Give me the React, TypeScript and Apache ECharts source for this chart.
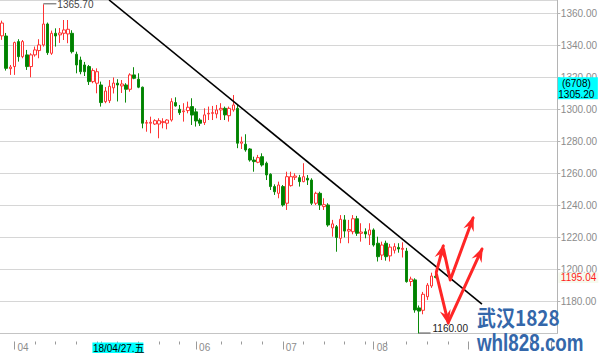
import React, { useEffect, useRef } from 'react';
import * as echarts from 'echarts';

// ---------- data ----------
const START_DATE = '2018-03-28';
const CATEGORY_COUNT = 135;

// [open, close, low, high]
const candles: number[][] = [
  [1346.0, 1354.0, 1343.5, 1355.5],
  [1345.9, 1325.7, 1324.3, 1347.8],
  [1325.5, 1326.5, 1321.6, 1327.8],
  [1326.8, 1341.8, 1321.6, 1342.4],
  [1342.4, 1333.0, 1329.9, 1343.9],
  [1333.0, 1342.4, 1332.0, 1343.4],
  [1334.1, 1326.8, 1324.7, 1337.2],
  [1326.8, 1334.1, 1320.1, 1335.1],
  [1334.1, 1337.2, 1333.0, 1339.3],
  [1336.8, 1340.3, 1332.0, 1343.9],
  [1340.3, 1353.4, 1339.3, 1365.7],
  [1353.4, 1335.5, 1334.1, 1354.3],
  [1335.1, 1347.6, 1334.1, 1349.3],
  [1347.6, 1345.9, 1339.3, 1350.7],
  [1346.6, 1347.8, 1341.6, 1350.9],
  [1347.6, 1349.7, 1343.4, 1355.9],
  [1347.2, 1350.1, 1341.4, 1355.9],
  [1347.6, 1336.1, 1335.0, 1349.5],
  [1334.5, 1327.8, 1322.6, 1336.1],
  [1330.9, 1323.6, 1322.0, 1333.0],
  [1327.8, 1323.6, 1320.9, 1329.7],
  [1326.8, 1317.4, 1315.3, 1327.8],
  [1317.4, 1324.3, 1316.4, 1325.7],
  [1316.4, 1323.6, 1310.1, 1325.7],
  [1315.3, 1304.3, 1301.8, 1317.4],
  [1304.9, 1311.5, 1303.9, 1314.0],
  [1305.5, 1314.5, 1304.0, 1318.4],
  [1313.5, 1316.5, 1310.0, 1320.0],
  [1316.4, 1315.3, 1305.0, 1318.9],
  [1314.7, 1315.9, 1310.3, 1318.4],
  [1315.3, 1312.6, 1304.3, 1316.4],
  [1312.6, 1321.6, 1311.1, 1322.6],
  [1321.6, 1319.5, 1318.9, 1326.4],
  [1318.9, 1313.9, 1313.3, 1322.6],
  [1313.9, 1291.4, 1288.2, 1314.3],
  [1291.4, 1291.8, 1286.1, 1293.4],
  [1291.4, 1292.0, 1285.1, 1295.5],
  [1290.9, 1293.0, 1290.3, 1293.9],
  [1290.9, 1293.0, 1282.0, 1294.5],
  [1291.8, 1292.4, 1288.2, 1294.5],
  [1291.4, 1293.4, 1287.6, 1293.9],
  [1293.4, 1304.9, 1292.4, 1307.0],
  [1304.3, 1302.2, 1301.8, 1307.6],
  [1300.1, 1298.0, 1296.6, 1302.8],
  [1298.6, 1299.1, 1292.4, 1303.9],
  [1299.3, 1301.4, 1297.6, 1304.9],
  [1301.8, 1296.5, 1290.3, 1307.0],
  [1298.5, 1292.8, 1289.3, 1300.7],
  [1293.4, 1291.4, 1289.7, 1294.5],
  [1291.8, 1296.6, 1290.3, 1300.7],
  [1297.2, 1297.6, 1293.4, 1301.8],
  [1297.6, 1298.0, 1293.4, 1302.2],
  [1297.2, 1299.7, 1294.5, 1302.8],
  [1299.7, 1300.7, 1293.4, 1303.9],
  [1300.7, 1296.6, 1293.4, 1301.8],
  [1296.1, 1300.7, 1292.4, 1301.8],
  [1299.7, 1302.8, 1298.6, 1309.0],
  [1300.7, 1278.9, 1275.8, 1302.8],
  [1278.9, 1279.7, 1275.3, 1283.0],
  [1278.3, 1274.7, 1273.6, 1284.5],
  [1275.3, 1268.4, 1267.4, 1275.8],
  [1268.4, 1267.4, 1261.1, 1270.5],
  [1267.0, 1269.9, 1266.4, 1271.6],
  [1270.5, 1265.3, 1264.3, 1272.6],
  [1266.4, 1259.1, 1255.9, 1267.4],
  [1259.5, 1251.8, 1249.7, 1260.1],
  [1251.8, 1248.6, 1246.6, 1253.2],
  [1247.6, 1252.8, 1244.5, 1254.9],
  [1251.8, 1240.3, 1239.3, 1252.8],
  [1241.4, 1258.0, 1237.2, 1261.1],
  [1252.4, 1258.0, 1251.8, 1261.1],
  [1257.6, 1258.4, 1255.9, 1260.1],
  [1257.4, 1254.9, 1251.8, 1259.1],
  [1254.9, 1258.0, 1254.5, 1266.4],
  [1257.0, 1255.9, 1252.8, 1259.0],
  [1255.9, 1241.4, 1240.3, 1257.0],
  [1241.4, 1247.6, 1240.3, 1248.6],
  [1247.6, 1240.3, 1237.2, 1248.6],
  [1239.3, 1240.5, 1237.2, 1244.5],
  [1240.3, 1227.8, 1226.7, 1241.4],
  [1226.0, 1228.5, 1220.5, 1231.0],
  [1226.7, 1220.0, 1211.1, 1227.8],
  [1219.5, 1231.4, 1216.4, 1234.0],
  [1231.0, 1224.0, 1220.0, 1234.0],
  [1224.0, 1225.0, 1216.4, 1231.0],
  [1223.6, 1231.7, 1222.0, 1234.0],
  [1231.7, 1222.6, 1221.0, 1233.5],
  [1222.6, 1223.4, 1217.4, 1228.9],
  [1223.6, 1222.2, 1219.5, 1225.7],
  [1221.6, 1224.7, 1215.3, 1228.9],
  [1224.7, 1215.3, 1214.3, 1225.7],
  [1216.4, 1208.0, 1205.0, 1220.5],
  [1209.0, 1215.3, 1205.9, 1217.4],
  [1216.4, 1208.0, 1205.5, 1218.0],
  [1208.5, 1214.0, 1205.0, 1216.0],
  [1212.0, 1214.3, 1210.0, 1216.4],
  [1213.8, 1212.8, 1210.5, 1216.4],
  [1212.6, 1213.2, 1207.5, 1217.0],
  [1211.5, 1192.4, 1191.8, 1213.5],
  [1192.5, 1194.0, 1189.6, 1195.5],
  [1193.5, 1174.7, 1173.0, 1194.5],
  [1176.0, 1174.0, 1160.0, 1177.5],
  [1174.5, 1184.5, 1172.0, 1186.0],
  [1183.0, 1190.2, 1181.0, 1191.5],
  [1189.7, 1195.9, 1188.5, 1198.0],
  [1195.8, 1195.04, 1194.5, 1197.0],
];

const Y_MIN = 1160;
const Y_MAX = 1368.4;
const Y_STEP = 20;

const cursorValueTexts = ['(6708)', '1305.20'];
const cursorValueLevel = 1313.2;
const cursorDateText = '18/04/27.五';
const cursorDateIndex = 22;
const cursorDateSpan = 12; // categories covered by the date box
const watermarkFromIndex = 110; // month labels from here on lie under the watermark

// trend line: [category index, price]
const trendLine = [
  [25.92, 1368.44],
  [116.24, 1178.4],
];

// hand drawn arrows: [category index, price]; heads: point indices that get an arrowhead
const arrowPaths = [
  { pts: [[105.19, 1198.4], [106.87, 1214.7]], heads: [1] },
  { pts: [[106.95, 1212.5], [108.56, 1193.4], [114.08, 1232.2]], heads: [2] },
  { pts: [[105.19, 1197.2], [108.08, 1166.6]], heads: [1] },
  { pts: [[108.2, 1167.5], [116.24, 1212.8]], heads: [1] },
];

const watermarkLines = ['武汉1828', 'whl828.com'];

// ---------- helpers ----------
function buildDates(start: string, n: number): string[] {
  const out: string[] = [];
  const d = new Date(start + 'T00:00:00Z');
  while (out.length < n) {
    const wd = d.getUTCDay();
    if (wd !== 0 && wd !== 6) out.push(d.toISOString().slice(0, 10));
    d.setUTCDate(d.getUTCDate() + 1);
  }
  return out;
}

const dates = buildDates(START_DATE, CATEGORY_COUNT);

const isMonthStart = (i: number) =>
  i > 0 && dates[i].slice(5, 7) !== dates[i - 1].slice(5, 7);

const isMonthLabel = (i: number) =>
  isMonthStart(i) &&
  i < watermarkFromIndex &&
  !(i >= cursorDateIndex && i <= cursorDateIndex + cursorDateSpan);

const isWeekTick = (i: number) => {
  const wd = new Date(dates[i] + 'T00:00:00Z').getUTCDay();
  if (wd !== 1) return false;
  for (let j = 1; j <= 2; j++) if (i - j >= 0 && isMonthStart(i - j)) return false;
  return !isMonthStart(i);
};

const FONT = '"Liberation Sans", Arial, "Noto Sans CJK SC", sans-serif';

export default function App() {
  const ref = useRef<HTMLDivElement>(null);

  useEffect(() => {
    if (!ref.current) return;
    const chart = echarts.init(ref.current, undefined, { renderer: 'svg' });

    const option: any = {
      animation: false,
      backgroundColor: '#ffffff',
      grid: { left: 0, right: 38, top: 0, bottom: 19.5, containLabel: false },
      xAxis: [
        {
          type: 'category',
          data: dates,
          boundaryGap: true,
          axisLine: { show: true, lineStyle: { color: '#c4c4c4', width: 1 } },
          axisTick: { show: false },
          axisLabel: { show: false },
          splitLine: { show: false },
        },
        {
          type: 'category',
          data: dates,
          position: 'bottom',
          offset: 8,
          boundaryGap: true,
          axisLine: { show: false },
          axisTick: {
            show: true,
            alignWithLabel: true,
            interval: (i: number) => isWeekTick(i),
            length: 3,
            lineStyle: { color: '#9a9a9a' },
          },
          axisLabel: { show: false },
        },
        {
          type: 'category',
          data: dates,
          position: 'bottom',
          offset: 8,
          boundaryGap: true,
          axisLine: { show: false },
          axisTick: {
            show: true,
            alignWithLabel: true,
            interval: (i: number) => isMonthStart(i),
            length: 8,
            lineStyle: { color: '#9a9a9a' },
          },
          axisLabel: {
            show: true,
            interval: (i: number) => isMonthLabel(i),
            formatter: (v: string) => v.slice(5, 7),
            align: 'left',
            padding: [0, 0, 0, 3],
            margin: 1,
            color: '#8c8c8c',
            fontSize: 10,
            fontFamily: FONT,
          },
        },
      ],
      yAxis: {
        type: 'value',
        position: 'right',
        min: Y_MIN,
        max: Y_MAX,
        interval: Y_STEP,
        axisLine: { show: true, lineStyle: { color: '#b4b4b4' } },
        axisTick: { show: true, length: 3, lineStyle: { color: '#b4b4b4' } },
        axisLabel: {
          margin: 3.5,
          color: '#8c8c8c',
          fontSize: 10,
          fontFamily: FONT,
          showMinLabel: false,
          showMaxLabel: false,
          formatter: (v: number) =>
            Math.abs(v % Y_STEP) < 1e-6 ? v.toFixed(2) : '',
        },
        splitLine: { show: true, lineStyle: { color: '#d6d6d6' } },
      },
      series: [
        {
          type: 'candlestick',
          data: candles,
          barWidth: 3,
          itemStyle: {
            color: '#ffffff',
            color0: '#008000',
            borderColor: '#ff3333',
            borderColor0: '#0a8a0a',
            borderWidth: 1,
          },
        },
      ],
    };
    chart.setOption(option);

    // pixel helpers through the chart's own scales
    const x0 = chart.convertToPixel({ xAxisIndex: 0 }, 0) as number;
    const x1 = chart.convertToPixel({ xAxisIndex: 0 }, 1) as number;
    const X = (k: number) => x0 + (x1 - x0) * k;
    const Y = (v: number) => chart.convertToPixel({ yAxisIndex: 0 }, v) as number;
    const rect = (chart as any).getModel().getComponent('grid', 0).coordinateSystem.getRect();
    const gridRight = rect.x + rect.width;
    const gridBottom = rect.y + rect.height;

    const g: any[] = [];

    // trend line
    g.push({
      type: 'line',
      z: 100,
      shape: {
        x1: X(trendLine[0][0]), y1: Y(trendLine[0][1]),
        x2: X(trendLine[1][0]), y2: Y(trendLine[1][1]),
      },
      style: { stroke: '#000000', lineWidth: 1.6 },
    });

    // arrows
    const RED = '#ff2626';
    arrowPaths.forEach((a) => {
      const pts = a.pts.map((p) => [X(p[0]), Y(p[1])]);
      g.push({
        type: 'polyline',
        z: 101,
        shape: { points: pts },
        style: { stroke: RED, lineWidth: 3, fill: null, lineJoin: 'round', lineCap: 'round' },
      });
      a.heads.forEach((hi) => {
        const t = pts[hi];
        const p = pts[hi - 1];
        const dx = t[0] - p[0];
        const dy = t[1] - p[1];
        const len = Math.hypot(dx, dy);
        const ux = dx / len, uy = dy / len;
        const L = 13, W = 11;
        const bx = t[0] - ux * L, by = t[1] - uy * L;
        g.push({
          type: 'polygon',
          z: 102,
          shape: {
            points: [
              [t[0] + ux * 2, t[1] + uy * 2],
              [bx - uy * W / 2, by + ux * W / 2],
              [t[0] - ux * L * 0.6, t[1] - uy * L * 0.6],
              [bx + uy * W / 2, by - ux * W / 2],
            ],
          },
          style: { fill: RED },
        });
      });
    });

    // max / min markers
    let hiIdx = 0, loIdx = 0;
    candles.forEach((c, i) => {
      if (c[3] > candles[hiIdx][3]) hiIdx = i;
      if (c[2] < candles[loIdx][2]) loIdx = i;
    });
    const hx = X(hiIdx), hy = Y(candles[hiIdx][3]);
    g.push({
      type: 'line', z: 100,
      shape: { x1: hx, y1: hy - 0.5, x2: hx + 13, y2: hy - 0.5 },
      style: { stroke: '#555555', lineWidth: 1 },
    });
    g.push({
      type: 'text', z: 100, x: hx + 14, y: hy + 0.5,
      style: {
        text: candles[hiIdx][3].toFixed(2), fill: '#444444', fontSize: 10,
        fontFamily: FONT, verticalAlign: 'middle', align: 'left',
      },
    });
    const lx = X(loIdx), ly = Y(candles[loIdx][2]);
    g.push({
      type: 'line', z: 100,
      shape: { x1: lx, y1: ly - 0.5, x2: lx + 11.5, y2: ly - 0.5 },
      style: { stroke: '#555555', lineWidth: 1 },
    });
    g.push({
      type: 'text', z: 100, x: lx + 13.5, y: ly - 5.5,
      style: {
        text: candles[loIdx][2].toFixed(2), fill: '#222222', fontSize: 10,
        fontFamily: FONT, verticalAlign: 'middle', align: 'left',
      },
    });

    // cursor value box on the price axis
    const cy = Y(cursorValueLevel);
    g.push({
      type: 'rect', z: 110,
      shape: { x: gridRight + 0.5, y: cy - 11, width: 40, height: 22 },
      style: { fill: '#00ffff' },
    });
    cursorValueTexts.forEach((t, i) => {
      g.push({
        type: 'text', z: 111, x: gridRight + 19, y: cy - 5.3 + i * 11,
        style: {
          text: t, fill: '#000000', fontSize: 10, fontFamily: FONT,
          align: 'center', verticalAlign: 'middle',
        },
      });
    });

    // cursor date box on the time axis
    const dx = X(cursorDateIndex);
    g.push({
      type: 'rect', z: 110,
      shape: { x: dx - 0.5, y: gridBottom + 9, width: 51, height: 12 },
      style: { fill: '#00ffff' },
    });
    g.push({
      type: 'text', z: 111, x: dx, y: gridBottom + 14.8,
      style: {
        text: cursorDateText, fill: '#000000', fontSize: 10, fontFamily: FONT,
        align: 'left', verticalAlign: 'middle',
      },
    });

    // last price label
    const lastClose = candles[candles.length - 1][1];
    const lpy = Y(lastClose);
    g.push({
      type: 'rect', z: 110,
      shape: { x: gridRight + 1, y: lpy - 5, width: 40, height: 10.5 },
      style: { fill: '#f6faee' },
    });
    g.push({
      type: 'text', z: 111, x: gridRight + 3.5, y: lpy + 0.3,
      style: {
        text: lastClose.toFixed(2), fill: '#ff2020', fontSize: 10, fontFamily: FONT,
        align: 'left', verticalAlign: 'middle',
      },
    });

    // watermark
    g.push({
      type: 'text', z: 120, x: 477, y: 327.5, scaleY: 1.12,
      style: {
        text: watermarkLines[0], fill: '#3467aa', fontSize: 19, fontWeight: 'bold',
        fontFamily: '"Noto Sans CJK SC", "DejaVu Sans", sans-serif',
        align: 'left', verticalAlign: 'bottom',
      },
    });
    g.push({
      type: 'text', z: 120, x: 477, y: 355, scaleY: 1.3,
      style: {
        text: watermarkLines[1], fill: '#3467aa', fontSize: 18.8, fontWeight: 'bold',
        fontFamily: '"Liberation Sans", Arial, sans-serif',
        align: 'left', verticalAlign: 'bottom',
      },
    });

    chart.setOption({ graphic: g });

    return () => chart.dispose();
  }, []);

  return (
    <div
      ref={ref}
      style={{ position: 'fixed', left: 0, top: 0, width: 600, height: 353, background: '#fff' }}
    />
  );
}
